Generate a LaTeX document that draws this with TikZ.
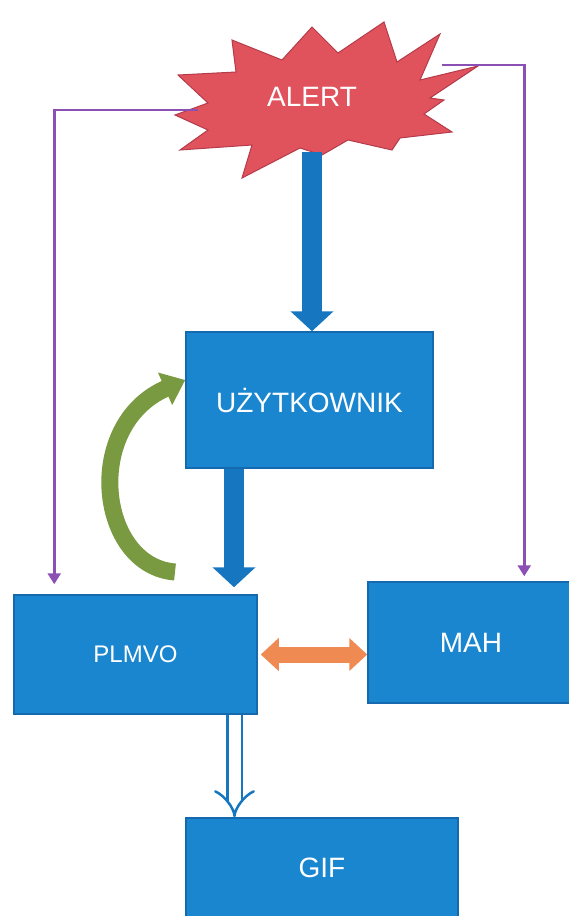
\documentclass[tikz,border=0pt]{standalone}
\usepackage{fontspec}
\setmainfont{Liberation Sans}
\usetikzlibrary{arrows.meta}
\definecolor{boxblue}{RGB}{26,134,208}
\definecolor{boxedge}{RGB}{20,105,175}
\definecolor{arrblue}{RGB}{22,118,192}
\definecolor{burst}{RGB}{224,82,92}
\definecolor{burstedge}{RGB}{180,60,75}
\definecolor{grn}{RGB}{122,154,66}
\definecolor{orng}{RGB}{238,138,82}
\definecolor{purp}{RGB}{140,80,180}
\begin{document}
\begin{tikzpicture}[x=1pt,y=-1pt,
  box/.style={draw=boxedge, line width=1.5pt, fill=boxblue, text=white, font=\fontsize{28}{30}\selectfont, inner sep=0pt},
  thickarrow/.style={draw=arrblue, line width=20pt, -{Triangle[width=42pt,length=20pt]}},
  purparrow/.style={draw=purp, line width=2.5pt, -{Triangle[width=13pt,length=11pt]}},
  burstshape/.style={fill=burst, draw=burstedge, line width=1pt}]
\useasboundingbox (0,0) rectangle (568,916);
% boxes
\node[box, minimum width=247pt, minimum height=136pt] (user) at (309.5,400) {UŻYTKOWNIK};
\node[box, minimum width=243pt, minimum height=119pt, font=\fontsize{24}{26}\selectfont] (plmvo) at (135.5,654.5) {PLMVO};
\node[box, minimum width=206pt, minimum height=121pt] (mah) at (471,642.5) {MAH};
\node[box, minimum width=272pt, minimum height=100pt] (gif) at (322,868) {GIF};
% starburst
\filldraw[burstshape] (232,40) -- (282,60) -- (312,27) -- (338,53) -- (384,22) -- (397,62) -- (440,34) -- (420,80) -- (478,66) -- (430,98) -- (444,100) -- (424,114) -- (452,132) -- (400,138) -- (392,150) -- (348,140) -- (322,155) -- (300,148) -- (242,178) -- (252,145) -- (180,150) -- (208,130) -- (175,115) -- (208,103) -- (178,75) -- (236,72) -- cycle;
\node[text=white, font=\fontsize{28}{30}\selectfont] (alert) at (312,97) {ALERT};
\coordinate (alertbot) at (312,152);
\coordinate (alertL) at (198,110);
\coordinate (alertR) at (442,65);
\coordinate (gstart) at (175,572);
% connectors
\draw[thickarrow] (alertbot) -- (alertbot |- user.north);
\draw[thickarrow] ([xshift=-75.5pt]user.south) -- ([xshift=98.5pt,yshift=7pt]plmvo.north);
\draw[draw=grn, line width=17pt, -{Triangle[width=34pt,length=22pt]}] (gstart) .. controls (98,566) and (82,425) .. ([yshift=20pt]user.west);
\draw[draw=orng, line width=16pt, {Triangle[width=32pt,length=18pt]}-{Triangle[width=32pt,length=18pt]}] ([xshift=3pt]plmvo.east) -- (plmvo.east -| mah.west);
\coordinate (dstart) at ([xshift=99pt]plmvo.south);
\draw[draw=arrblue, double=white, double distance=12pt, line width=2.5pt, -{Implies}] (dstart) -- (dstart |- gif.north);
\draw[purparrow] (alertL) -| ([xshift=41pt,yshift=10pt]plmvo.north west);
\draw[purparrow] (alertR) -| ([xshift=157pt,yshift=5pt]mah.north west);
\end{tikzpicture}
\end{document}
